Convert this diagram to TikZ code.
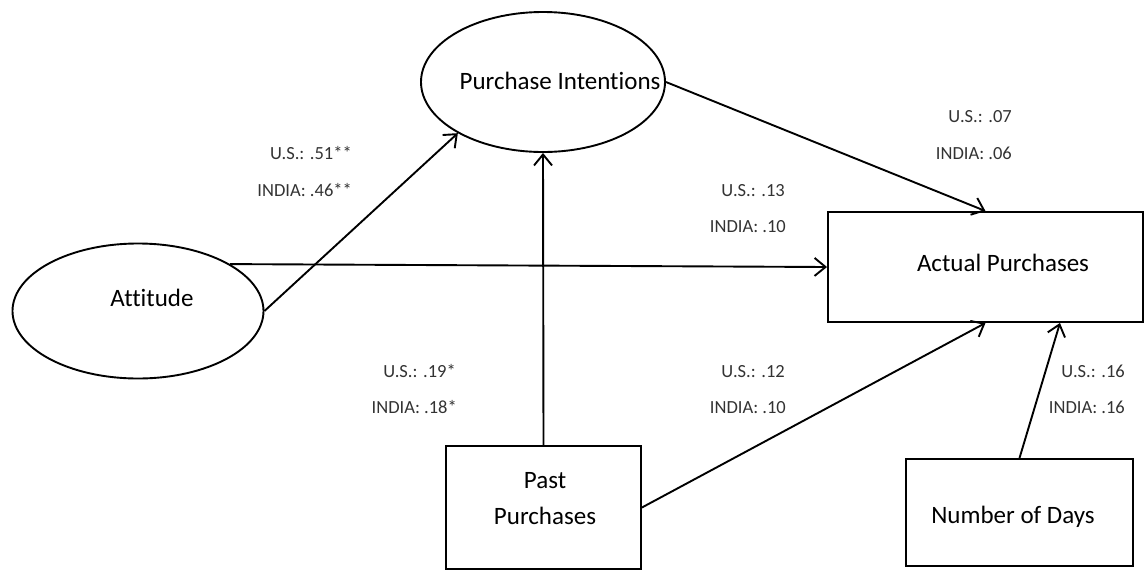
\documentclass[tikz,border=0pt]{standalone}
\usepackage{fontspec}
\setmainfont[Ligatures=NoCommon]{Carlito}
\usetikzlibrary{shapes.geometric,arrows.meta,calc}
\begin{document}
\begin{tikzpicture}[x=1pt,y=-1pt,
  conn/.style={line width=1.9pt,-{Straight Barb[length=11pt,width=18pt]}},
  ell/.style={draw,line width=1.9pt,ellipse,inner sep=0pt},
  box/.style={draw,line width=1.9pt,rectangle,inner sep=0pt},
  main/.style={font=\fontsize{25}{36}\selectfont,inner sep=0pt,align=center},
  coef/.style={font=\fontsize{18.5}{22}\selectfont,text=black!80,inner sep=0pt,anchor=mid east}]
\useasboundingbox (0,0) rectangle (1144,582);
% nodes
\node[ell,minimum width=244pt,minimum height=140pt] (pi) at (543,82) {};
\node[main] (pitext) at (560,81) {Purchase Intentions};
\node[ell,minimum width=251pt,minimum height=135pt] (att) at (138,311) {};
\node[main] (atttext) at (152,298) {Attitude};
\node[box,minimum width=315pt,minimum height=110pt] (ap) at (985.5,267) {};
\node[main] (aptext) at (1003,263) {Actual Purchases};
\node[box,minimum width=195pt,minimum height=123pt] (pp) at (543.5,507.5) {};
\node[main] (pptext) at (545,499) {Past\\Purchases};
\node[box,minimum width=227pt,minimum height=107pt] (nd) at (1019.5,512.5) {};
\node[main] (ndtext) at (1013,517) {Number of Days};
% connectors
\draw[conn] (att.east) -- (pi.211);
\draw[conn] (att.27) -- (ap.west);
\draw[conn] (pp.north) -- (pi.south);
\draw[conn] (pi.east) -- (ap.north);
\draw[conn] (pp.east) -- (ap.south);
\draw[conn] (nd.north) -- ($(ap.south)!0.47!(ap.south east)$);
% coefficients
\node[coef] (c1a) at (352,157) {U.S.: .51**};
\node[coef] (c1b) at (352,194) {INDIA: .46**};
\node[coef] (c2a) at (1012,120) {U.S.: .07};
\node[coef] (c2b) at (1012,157) {INDIA: .06};
\node[coef] (c3a) at (785,194) {U.S.: .13};
\node[coef] (c3b) at (786,230) {INDIA: .10};
\node[coef] (c4a) at (456,375) {U.S.: .19*};
\node[coef] (c4b) at (457,411) {INDIA: .18*};
\node[coef] (c5a) at (785,375) {U.S.: .12};
\node[coef] (c5b) at (786,411) {INDIA: .10};
\node[coef] (c6a) at (1125,375) {U.S.: .16};
\node[coef] (c6b) at (1125,411) {INDIA: .16};
\end{tikzpicture}
\end{document}
